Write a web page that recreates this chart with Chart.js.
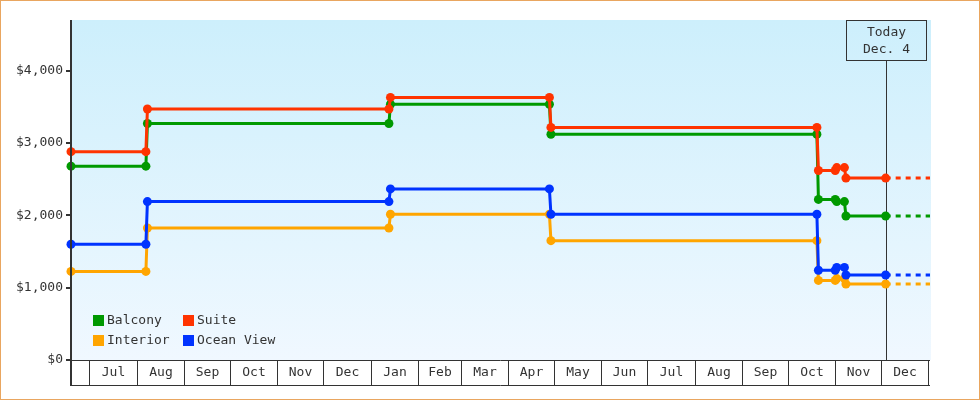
<!DOCTYPE html>
<html>
<head>
<meta charset="utf-8">
<script src="https://cdn.jsdelivr.net/npm/chart.js@4.4.0/dist/chart.umd.min.js"></script>
<style>
  html, body { margin: 0; padding: 0; background: #fff; }
</style>
</head>
<body>
<canvas id="fareChart" width="980" height="400"></canvas>
<script>
// price change dates (one point at the end of the old price, one at the start of the new)
const dates = ['2014-06-19', '2014-08-07', '2014-08-08', '2015-01-13', '2015-01-14', '2015-04-28', '2015-04-29',
  '2015-10-20', '2015-10-21', '2015-11-01', '2015-11-02', '2015-11-07', '2015-11-08', '2015-12-04', '2016-01-02'];

const balcony   = [2680, 2680, 3270, 3270, 3535, 3535, 3120, 3120, 2220, 2220, 2190, 2190, 1990, 1990, 1990];
const suite     = [2880, 2880, 3470, 3470, 3630, 3630, 3215, 3215, 2620, 2620, 2660, 2660, 2515, 2515, 2515];
const interior  = [1225, 1225, 1825, 1825, 2015, 2015, 1650, 1650, 1100, 1100, 1125, 1125, 1050, 1050, 1050];
const oceanView = [1600, 1600, 2190, 2190, 2365, 2365, 2015, 2015, 1240, 1240, 1280, 1280, 1175, 1175, 1175];

const monthLabels = ['Jul', 'Aug', 'Sep', 'Oct', 'Nov', 'Dec', 'Jan', 'Feb', 'Mar', 'Apr', 'May', 'Jun',
  'Jul', 'Aug', 'Sep', 'Oct', 'Nov', 'Dec'];
const monthStarts = ['2014-07-01', '2014-08-01', '2014-09-01', '2014-10-01', '2014-11-01', '2014-12-01',
  '2015-01-01', '2015-02-01', '2015-03-01', '2015-04-01', '2015-05-01', '2015-06-01', '2015-07-01',
  '2015-08-01', '2015-09-01', '2015-10-01', '2015-11-01', '2015-12-01', '2016-01-01'];

const yTicks = [0, 1000, 2000, 3000, 4000];
const yTickLabels = ['$0', '$1,000', '$2,000', '$3,000', '$4,000'];

const todayDate = '2015-12-04';
const todayLabel = ['Today', 'Dec. 4'];
const axisStart = '2014-06-19';
const axisEnd = '2016-01-02';

const FONT = '13px "DejaVu Sans Mono", monospace';
const INK = '#333333';

const origin = Date.UTC(2014, 5, 1);
function dayNum(s) {
  const p = s.split('-').map(Number);
  return (Date.UTC(p[0], p[1] - 1, p[2]) - origin) / 86400000;
}

const last = dates.length - 1;
function makeSet(label, values, color, order) {
  return {
    label: label,
    data: values.map((v, i) => ({ x: dayNum(dates[i]), y: v })),
    borderColor: color,
    backgroundColor: color,
    borderWidth: 3,
    pointRadius: ctx => ctx.dataIndex === last ? 0 : 4.5,
    pointHoverRadius: 4.5,
    pointBorderWidth: 0,
    tension: 0,
    clip: false,
    order: order,
    segment: {
      borderDash: ctx => ctx.p1DataIndex === last ? [5, 5] : undefined
    }
  };
}

const legendItems = [
  { label: 'Balcony', color: '#009900', col: 0, row: 0 },
  { label: 'Suite', color: '#ff3300', col: 1, row: 0 },
  { label: 'Interior', color: '#ffa500', col: 0, row: 1 },
  { label: 'Ocean View', color: '#0033ff', col: 1, row: 1 }
];

const decor = {
  id: 'decor',
  beforeDraw(chart) {
    const { ctx, chartArea: a } = chart;
    ctx.save();
    ctx.fillStyle = '#fff';
    ctx.fillRect(0, 0, chart.width, chart.height);
    const g = ctx.createLinearGradient(0, a.top, 0, a.bottom);
    g.addColorStop(0, '#cdeffc');
    g.addColorStop(1, '#f0f8ff');
    ctx.fillStyle = g;
    ctx.fillRect(a.left, a.top, a.right - a.left + 1, a.bottom - a.top);
    ctx.restore();
  },
  beforeDatasetsDraw(chart) {
    const { ctx, chartArea: a } = chart;
    const tx = Math.round(chart.scales.x.getPixelForValue(dayNum(todayDate))) + 0.5;
    ctx.save();
    ctx.strokeStyle = INK;
    ctx.lineWidth = 1;
    ctx.beginPath();
    ctx.moveTo(tx, a.top + 40);
    ctx.lineTo(tx, a.bottom);
    ctx.stroke();
    ctx.restore();
  },
  afterDraw(chart) {
    const { ctx, chartArea: a } = chart;
    const xs = chart.scales.x;
    const px = s => Math.round(xs.getPixelForValue(dayNum(s))) + 0.5;
    const top = a.bottom, bot = a.bottom + 25;
    ctx.save();

    // month band
    ctx.strokeStyle = INK;
    ctx.lineWidth = 1;
    ctx.beginPath();
    ctx.moveTo(a.left, top + 0.5); ctx.lineTo(a.right, top + 0.5);
    ctx.moveTo(a.left, bot + 0.5); ctx.lineTo(a.right, bot + 0.5);
    monthStarts.forEach(s => {
      const x = px(s);
      ctx.moveTo(x, top); ctx.lineTo(x, bot);
    });
    ctx.stroke();
    ctx.fillStyle = INK;
    ctx.font = FONT;
    ctx.textAlign = 'center';
    ctx.textBaseline = 'middle';
    monthLabels.forEach((lab, i) => {
      ctx.fillText(lab, (px(monthStarts[i]) + px(monthStarts[i + 1])) / 2, top + 13);
    });

    // y axis line, running down through the band
    ctx.fillStyle = INK;
    ctx.fillRect(a.left - 1, a.top, 2, bot - a.top + 1);

    // today box
    const tx = px(todayDate);
    const g = ctx.createLinearGradient(0, a.top, 0, a.bottom);
    g.addColorStop(0, '#cdeffc');
    g.addColorStop(1, '#f0f8ff');
    ctx.fillStyle = g;
    ctx.fillRect(tx - 40, a.top, 80, 40);
    ctx.strokeRect(tx - 40, a.top + 0.5, 80, 40);
    ctx.fillStyle = INK;
    ctx.fillText(todayLabel[0], tx, a.top + 12.5);
    ctx.fillText(todayLabel[1], tx, a.top + 30);

    // legend
    ctx.textAlign = 'left';
    legendItems.forEach(it => {
      const lx = a.left + 22 + it.col * 90;
      const ly = 315 + it.row * 20;
      ctx.fillStyle = it.color;
      ctx.fillRect(lx, ly, 11, 11);
      ctx.fillStyle = INK;
      ctx.fillText(it.label, lx + 14, ly + 6);
    });

    // outer frame
    ctx.strokeStyle = '#e9a660';
    ctx.strokeRect(0.5, 0.5, chart.width - 1, chart.height - 1);
    ctx.restore();
  }
};

new Chart(document.getElementById('fareChart'), {
  type: 'line',
  data: {
    datasets: [
      makeSet('Balcony', balcony, '#009900', 1),
      makeSet('Suite', suite, '#ff3300', 0),
      makeSet('Interior', interior, '#ffa500', 1),
      makeSet('Ocean View', oceanView, '#0033ff', 0)
    ]
  },
  options: {
    responsive: false,
    animation: false,
    devicePixelRatio: 1,
    layout: { padding: { left: 0, right: 50, top: 20, bottom: 40 } },
    plugins: { legend: { display: false }, tooltip: { enabled: false } },
    scales: {
      x: {
        type: 'linear',
        display: false,
        min: dayNum(axisStart),
        max: dayNum(axisEnd)
      },
      y: {
        min: 0,
        max: 4700,
        afterFit: s => { s.width = 71; },
        afterBuildTicks: s => { s.ticks = yTicks.map(v => ({ value: v })); },
        border: { display: false },
        grid: { drawOnChartArea: false, tickLength: 5, lineWidth: 2, color: INK },
        ticks: {
          padding: 3,
          color: INK,
          font: { family: '"DejaVu Sans Mono", monospace', size: 13 },
          callback: v => yTickLabels[yTicks.indexOf(v)]
        }
      }
    }
  },
  plugins: [decor]
});
</script>
</body>
</html>
